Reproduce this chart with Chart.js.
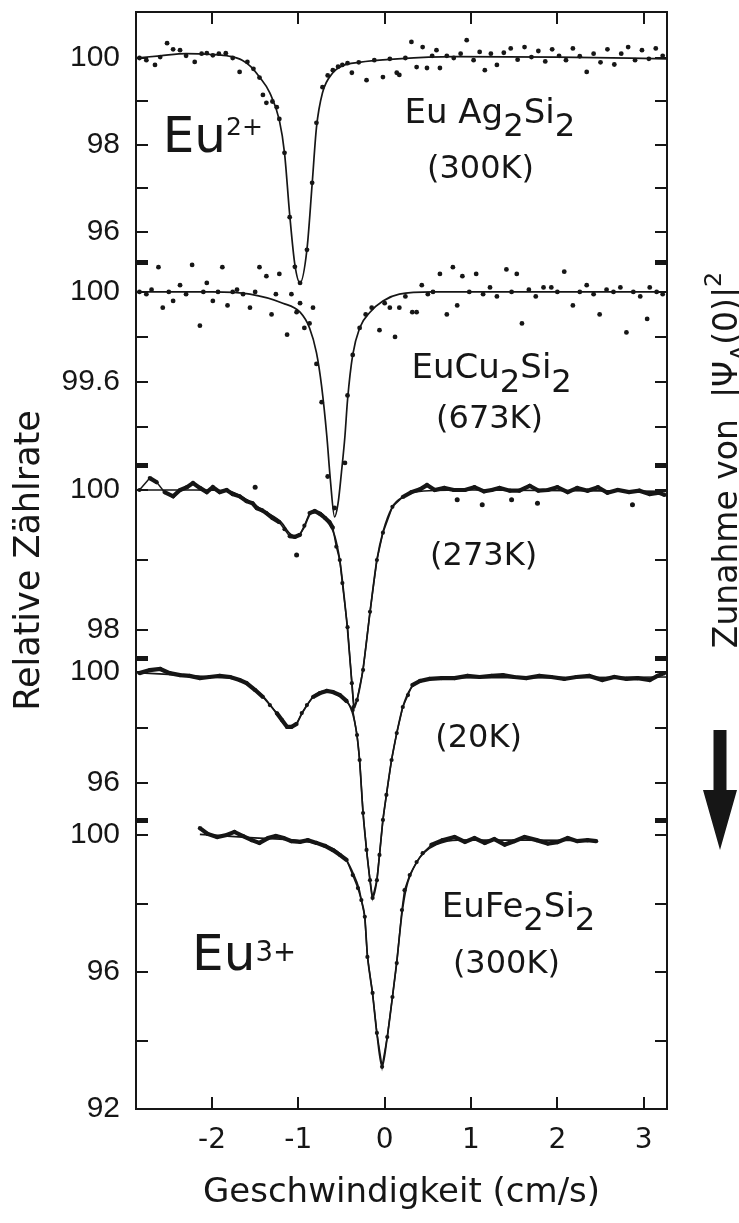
<!DOCTYPE html>
<html>
<head>
<meta charset="utf-8">
<script src="https://cdn.jsdelivr.net/npm/chart.js@4.4.1/dist/chart.umd.min.js"></script>
<style>
  html, body { margin: 0; padding: 0; background: #fff; }
  #wrap { position: relative; width: 739px; height: 1223px; }
</style>
</head>
<body>
<div id="wrap"><canvas id="chart"></canvas></div>
<script>
const ink = "#161616";

// x: Geschwindigkeit in cm/s, y: relative Zählrate in %
// EuAg2Si2 (300 K)
const agDots = [
	[-2.84, 100.0], [-2.76, 99.95], [-2.66, 99.84], [-2.60, 100.02], [-2.52, 100.34], [-2.45, 100.2],
	[-2.37, 100.18], [-2.30, 100.05], [-2.20, 99.91], [-2.12, 100.1], [-2.06, 100.11], [-1.99, 100.06],
	[-1.92, 100.1], [-1.84, 100.11], [-1.76, 100.0], [-1.68, 99.68], [-1.59, 99.91], [-1.52, 99.75],
	[-1.45, 99.55], [-1.41, 99.15], [-1.37, 98.97], [-1.30, 99.0], [-1.25, 98.87], [-1.22, 98.6],
	[-1.16, 97.82], [-1.10, 96.34], [-1.04, 95.2], [-0.98, 94.83], [-0.90, 95.59], [-0.84, 97.13],
	[-0.79, 98.51], [-0.72, 99.33], [-0.66, 99.6], [-0.60, 99.72], [-0.54, 99.8], [-0.49, 99.84],
	[-0.43, 99.88], [-0.38, 99.66], [-0.30, 99.9], [-0.21, 99.49], [-0.12, 99.95], [-0.02, 99.56],
	[0.06, 99.98], [0.14, 99.66], [0.17, 99.61], [0.24, 100.0], [0.31, 100.37], [0.37, 99.79],
	[0.44, 100.25], [0.49, 99.77], [0.55, 100.05], [0.60, 100.18], [0.64, 99.77], [0.72, 100.05],
	[0.80, 100.0], [0.88, 100.1], [0.95, 100.41], [1.03, 99.95], [1.10, 100.14], [1.16, 99.72],
	[1.23, 100.1], [1.30, 99.84], [1.38, 100.12], [1.46, 100.22], [1.54, 99.96], [1.62, 100.25],
	[1.70, 100.02], [1.78, 100.16], [1.86, 99.92], [1.94, 100.2], [2.02, 100.05], [2.10, 99.95],
	[2.18, 100.22], [2.26, 100.04], [2.34, 99.68], [2.42, 100.1], [2.50, 99.9], [2.58, 100.2],
	[2.66, 99.85], [2.74, 100.1], [2.82, 100.25], [2.90, 99.95], [2.98, 100.18], [3.06, 99.98],
	[3.14, 100.22], [3.22, 100.05]
];
const agFit = [
	[-2.88, 100.0], [-2.6, 100.05], [-2.3, 100.1], [-2.0, 100.08], [-1.8, 100.04], [-1.65, 99.95],
	[-1.55, 99.8], [-1.45, 99.56], [-1.33, 99.2], [-1.22, 98.57], [-1.16, 97.82], [-1.10, 96.4],
	[-1.04, 95.25], [-0.98, 94.83], [-0.90, 95.6], [-0.84, 97.1], [-0.79, 98.4], [-0.72, 99.2],
	[-0.60, 99.66], [-0.49, 99.82], [-0.30, 99.9], [0.15, 99.98], [0.8, 100.03], [2.0, 100.02],
	[3.27, 99.98]
];

// EuCu2Si2 (673 K)
const cuDots = [
	[-2.84, 100.0], [-2.76, 99.99], [-2.70, 100.01], [-2.62, 100.11], [-2.57, 99.93], [-2.50, 100.0],
	[-2.45, 99.96], [-2.37, 100.03], [-2.30, 99.99], [-2.23, 100.12], [-2.14, 99.85], [-2.10, 100.0],
	[-2.06, 100.04], [-1.99, 99.96], [-1.93, 100.0], [-1.88, 100.11], [-1.82, 99.94], [-1.76, 100.0],
	[-1.71, 100.01], [-1.64, 99.99], [-1.56, 99.93], [-1.50, 100.0], [-1.45, 100.11], [-1.37, 100.07],
	[-1.31, 99.9], [-1.26, 99.99], [-1.22, 100.08], [-1.13, 99.81], [-1.08, 99.99], [-1.02, 99.91],
	[-0.98, 99.95], [-0.93, 99.84], [-0.87, 99.86], [-0.83, 99.93], [-0.79, 99.68], [-0.73, 99.51],
	[-0.66, 99.18], [-0.58, 99.04], [-0.46, 99.24], [-0.43, 99.54], [-0.37, 99.72], [-0.29, 99.84],
	[-0.22, 99.9], [-0.15, 99.93], [-0.06, 99.83], [0.0, 99.95], [0.06, 99.93], [0.12, 99.8],
	[0.17, 99.93], [0.24, 99.98], [0.32, 99.91], [0.37, 99.91], [0.43, 100.03], [0.50, 99.99],
	[0.56, 100.0], [0.64, 100.08], [0.72, 99.9], [0.79, 100.11], [0.84, 99.94], [0.90, 100.07],
	[0.98, 100.0], [1.06, 100.08], [1.14, 99.99], [1.22, 100.02], [1.30, 99.98], [1.41, 100.1],
	[1.47, 100.0], [1.53, 100.08], [1.59, 99.86], [1.67, 100.01], [1.75, 99.98], [1.84, 100.02],
	[1.93, 100.02], [2.00, 100.0], [2.08, 100.09], [2.18, 99.94], [2.26, 100.0], [2.34, 100.03],
	[2.42, 99.99], [2.49, 99.9], [2.57, 100.01], [2.65, 100.0], [2.73, 100.02], [2.80, 99.82],
	[2.88, 100.0], [2.96, 99.98], [3.04, 99.88], [3.07, 100.02], [3.15, 100.0], [3.22, 99.99]
];
const cuFit = [
	[-2.88, 100.0], [-2.0, 100.0], [-1.56, 99.99], [-1.18, 99.95], [-0.98, 99.91], [-0.87, 99.84],
	[-0.79, 99.73], [-0.73, 99.58], [-0.67, 99.36], [-0.63, 99.17], [-0.58, 99.0], [-0.54, 99.06],
	[-0.50, 99.2], [-0.46, 99.36], [-0.43, 99.52], [-0.37, 99.72], [-0.29, 99.84], [-0.17, 99.91],
	[-0.02, 99.96], [0.17, 99.99], [0.56, 100.0], [3.27, 100.0]
];

// EuCu2Si2 (273 K): connected run plus stray points off the run
const k273Dots = [
	[-2.84, 100.0], [-2.72, 100.17], [-2.64, 100.11], [-2.55, 99.97], [-2.45, 99.91], [-2.37, 100.0],
	[-2.29, 100.04], [-2.22, 100.1], [-2.14, 100.03], [-2.06, 99.97], [-1.99, 100.04], [-1.91, 99.97],
	[-1.83, 100.0], [-1.76, 99.94], [-1.68, 99.91], [-1.60, 99.84], [-1.53, 99.81], [-1.48, 99.74],
	[-1.42, 99.71], [-1.37, 99.67], [-1.30, 99.6], [-1.22, 99.54], [-1.16, 99.44], [-1.10, 99.34],
	[-1.04, 99.33], [-0.98, 99.36], [-0.93, 99.49], [-0.87, 99.67], [-0.81, 99.7], [-0.75, 99.66],
	[-0.69, 99.6], [-0.64, 99.54], [-0.60, 99.46], [-0.56, 99.19], [-0.52, 99.0], [-0.49, 98.67],
	[-0.43, 98.04], [-0.38, 97.24], [-0.36, 96.9], [-0.32, 97.0], [-0.25, 97.43], [-0.17, 98.26],
	[-0.09, 99.0], [-0.02, 99.39], [0.09, 99.76], [0.21, 99.9], [0.31, 99.97], [0.41, 100.01],
	[0.49, 100.07], [0.58, 100.0], [0.69, 100.03], [0.80, 100.0], [0.93, 100.0], [1.04, 100.04],
	[1.15, 99.98], [1.24, 100.0], [1.33, 100.03], [1.45, 99.99], [1.56, 99.99], [1.68, 100.06],
	[1.78, 99.99], [1.89, 100.0], [2.0, 100.04], [2.12, 99.97], [2.23, 100.03], [2.35, 99.99],
	[2.47, 100.04], [2.58, 99.96], [2.70, 100.0], [2.83, 99.97], [2.95, 99.99], [3.07, 99.94],
	[3.18, 99.96], [3.24, 99.93]
];
const k273Stray = [
	[-1.50, 100.04], [-1.02, 99.07], [0.84, 99.86], [1.13, 99.79], [1.47, 99.86], [1.77, 99.81], [2.87, 99.79]
];
const k273Fit = [
	[-2.88, 100.0], [-2.2, 100.0], [-1.8, 99.98], [-1.6, 99.86], [-1.4, 99.7], [-1.2, 99.54],
	[-1.1, 99.38], [-1.02, 99.33], [-0.94, 99.45], [-0.85, 99.67], [-0.76, 99.68], [-0.66, 99.56],
	[-0.58, 99.35], [-0.52, 99.0], [-0.48, 98.6], [-0.43, 98.0], [-0.38, 97.25], [-0.35, 96.9],
	[-0.31, 97.05], [-0.25, 97.45], [-0.17, 98.25], [-0.09, 99.0], [-0.02, 99.4], [0.09, 99.76],
	[0.21, 99.9], [0.4, 99.98], [1.0, 100.0], [3.27, 99.98]
];

// EuCu2Si2 (20 K)
const k20Dots = [
	[-2.84, 99.96], [-2.72, 100.07], [-2.60, 100.11], [-2.49, 99.96], [-2.37, 99.89], [-2.26, 99.86],
	[-2.14, 99.78], [-2.03, 99.82], [-1.91, 99.86], [-1.79, 99.82], [-1.68, 99.71], [-1.60, 99.6],
	[-1.50, 99.35], [-1.41, 99.1], [-1.33, 98.81], [-1.25, 98.52], [-1.19, 98.27], [-1.13, 98.02],
	[-1.08, 98.02], [-1.02, 98.13], [-0.96, 98.52], [-0.90, 98.81], [-0.83, 99.1], [-0.75, 99.24],
	[-0.67, 99.32], [-0.60, 99.28], [-0.52, 99.17], [-0.44, 98.95], [-0.37, 98.63], [-0.32, 97.73],
	[-0.29, 96.83], [-0.25, 94.92], [-0.21, 93.59], [-0.17, 92.5], [-0.14, 91.86], [-0.09, 92.5],
	[-0.06, 93.41], [-0.02, 94.67], [0.02, 95.57], [0.08, 96.83], [0.14, 97.8], [0.21, 98.74],
	[0.27, 99.17], [0.32, 99.53], [0.41, 99.68], [0.52, 99.75], [0.66, 99.78], [0.81, 99.78],
	[0.96, 99.86], [1.10, 99.82], [1.24, 99.86], [1.37, 99.89], [1.50, 99.82], [1.64, 99.78],
	[1.79, 99.86], [1.93, 99.82], [2.08, 99.75], [2.22, 99.82], [2.37, 99.86], [2.52, 99.71],
	[2.66, 99.82], [2.80, 99.75], [2.93, 99.78], [3.07, 99.71], [3.16, 99.86], [3.24, 99.96]
];
const k20Fit = [
	[-2.88, 99.98], [-2.4, 99.9], [-2.0, 99.82], [-1.7, 99.72], [-1.55, 99.5], [-1.4, 99.1],
	[-1.25, 98.5], [-1.13, 98.05], [-1.05, 98.05], [-0.95, 98.55], [-0.83, 99.1], [-0.70, 99.3],
	[-0.58, 99.27], [-0.47, 99.05], [-0.38, 98.6], [-0.32, 97.7], [-0.29, 96.8], [-0.25, 94.9],
	[-0.21, 93.6], [-0.17, 92.5], [-0.14, 91.86], [-0.09, 92.5], [-0.06, 93.4], [-0.02, 94.67],
	[0.02, 95.57], [0.08, 96.83], [0.14, 97.8], [0.21, 98.74], [0.30, 99.4], [0.45, 99.72],
	[0.8, 99.8], [2.0, 99.8], [3.27, 99.82]
];

// EuFe2Si2 (300 K)
const feDots = [
	[-2.14, 100.2], [-2.05, 100.03], [-1.94, 99.94], [-1.83, 100.0], [-1.74, 100.09], [-1.64, 99.97],
	[-1.54, 99.85], [-1.45, 99.77], [-1.35, 99.91], [-1.26, 99.97], [-1.17, 99.91], [-1.08, 99.82],
	[-0.98, 99.8], [-0.89, 99.85], [-0.79, 99.77], [-0.69, 99.68], [-0.60, 99.56], [-0.52, 99.42],
	[-0.44, 99.27], [-0.37, 98.83], [-0.31, 98.45], [-0.27, 98.1], [-0.23, 97.61], [-0.20, 96.44],
	[-0.14, 95.39], [-0.09, 94.22], [-0.03, 93.23], [0.03, 94.1], [0.09, 95.27], [0.14, 96.26],
	[0.20, 97.81], [0.23, 98.39], [0.29, 98.83], [0.37, 99.21], [0.44, 99.47], [0.54, 99.71],
	[0.67, 99.85], [0.81, 99.94], [0.93, 99.8], [1.04, 99.91], [1.16, 99.77], [1.27, 99.88],
	[1.39, 99.72], [1.50, 99.82], [1.62, 99.94], [1.76, 99.85], [1.89, 99.75], [2.0, 99.79],
	[2.12, 99.91], [2.23, 99.82], [2.35, 99.85], [2.45, 99.82]
];
const feFit = [
	[-2.14, 100.02], [-1.6, 99.93], [-1.0, 99.84], [-0.75, 99.74], [-0.55, 99.52], [-0.44, 99.25],
	[-0.36, 98.85], [-0.30, 98.45], [-0.27, 98.1], [-0.23, 97.6], [-0.20, 96.5], [-0.14, 95.35],
	[-0.09, 94.2], [-0.03, 93.23], [0.03, 94.1], [0.09, 95.27], [0.14, 96.3], [0.20, 97.7],
	[0.25, 98.45], [0.30, 98.85], [0.37, 99.2], [0.45, 99.47], [0.6, 99.72], [0.85, 99.85],
	[1.6, 99.85], [2.45, 99.84]
];

const xTicks = [-2, -1, 0, 1, 2, 3];
const yTicks = [
	[96, 97, 98, 99, 100],
	[99.4, 99.6, 99.8, 100],
	[98, 99, 100],
	[96, 98, 100],
	[92, 94, 96, 98, 100]
];
const yTickLabels = [
	["96", "", "98", "", "100"],
	["", "99.6", "", "100"],
	["98", "", "100"],
	["96", "", "100"],
	["92", "", "96", "", "100"]
];

// one stacked y axis per spectrum, top to bottom
const panels = [
	{ min: 95.31, max: 101.057, h: 250 },
	{ min: 99.231, max: 100.133, h: 203 },
	{ min: 97.6, max: 100.357, h: 193 },
	{ min: 94.667, max: 100.505, h: 162 },
	{ min: 92, max: 100.438, h: 289 }
];

Chart.defaults.font.family = "DejaVu Sans";
Chart.defaults.color = ink;

const pts = (arr) => arr.map(([x, y]) => ({ x, y }));

function dots (arr, axis, r) {
	return { data: pts(arr), yAxisID: axis, showLine: false, pointRadius: r, pointBackgroundColor: ink, pointBorderWidth: 0, clip: false };
}

function trace (arr, axis) {
	// dense measurement runs look like a thick ragged line, steep flanks stay thin
	return {
		data: pts(arr), yAxisID: axis, showLine: true, borderColor: ink, borderWidth: 4.2,
		pointRadius: 2.1, pointBackgroundColor: ink, pointBorderWidth: 0, clip: false,
		segment: { borderWidth: (c) => Math.abs(c.p1.y - c.p0.y) > 7 ? 1.5 : 4.2 }
	};
}

function fit (arr, axis) {
	return { data: pts(arr), yAxisID: axis, showLine: true, borderColor: ink, borderWidth: 1.7, pointRadius: 0, cubicInterpolationMode: "monotone", clip: false };
}

// axes keep no extra label overhang, so the stack fills the plot exactly
function noOverhang (s) {
	s.paddingTop = 0;
	s.paddingBottom = 0;
	s.paddingLeft = 0;
	s.paddingRight = 0;
}

const scales = {
	x: {
		type: "linear", position: "bottom", min: -2.88, max: 3.27, clip: false,
		border: { color: ink, width: 2 },
		grid: { drawOnChartArea: false, tickLength: -12, color: ink, lineWidth: 2 },
		ticks: { autoSkip: false, padding: 27, font: { size: 28 }, color: ink, callback: (v) => xTicks.includes(v) ? String(v) : "" },
		title: { display: true, text: "Geschwindigkeit (cm/s)", font: { size: 34 }, color: ink, padding: { top: 0, bottom: 9 } },
		afterBuildTicks: (s) => { s.ticks = xTicks.map((v) => ({ value: v })); },
		afterFit: (s) => { s.height = 114; noOverhang(s); }
	},
	xTop: {
		type: "linear", position: "top", min: -2.88, max: 3.27, clip: false,
		border: { color: ink, width: 2 },
		grid: { drawOnChartArea: false, tickLength: -12, color: ink, lineWidth: 2 },
		ticks: { display: false },
		afterBuildTicks: (s) => { s.ticks = xTicks.map((v) => ({ value: v })); },
		afterFit: (s) => { s.height = 12; noOverhang(s); }
	}
};

panels.forEach((p, i) => {
	const tickVals = i > 0 ? yTicks[i].concat([p.max]) : yTicks[i];
	const grid = {
		drawOnChartArea: false, tickLength: -12, color: ink,
		lineWidth: (c) => c.tick && c.tick.value === p.max ? 5 : 2
	};
	scales["yL" + i] = {
		type: "linear", position: "left", stack: "left", stackWeight: p.h, weight: 5 - i,
		min: p.min, max: p.max, clip: false,
		border: { color: ink, width: 2 }, grid,
		ticks: {
			autoSkip: false, padding: 28, color: ink, font: { family: "Liberation Sans", size: 30 },
			callback: (v) => {
				const k = yTicks[i].indexOf(v);
				return k >= 0 ? yTickLabels[i][k] : "";
			}
		},
		afterBuildTicks: (s) => { s.ticks = tickVals.map((v) => ({ value: v })); },
		afterFit: (s) => { s.width = 76; noOverhang(s); }
	};
	scales["yR" + i] = {
		type: "linear", position: "right", stack: "right", stackWeight: p.h, weight: i + 1,
		min: p.min, max: p.max, clip: false,
		border: { color: ink, width: 2 }, grid,
		ticks: { display: false },
		afterBuildTicks: (s) => { s.ticks = tickVals.map((v) => ({ value: v })); },
		afterFit: (s) => { s.width = 72; noOverhang(s); }
	};
});

function rich (ctx, parts, x, y, size, align) {
	// parts: [text, baseline shift (x size), size factor]
	const widths = parts.map(([t, , f]) => {
		ctx.font = `${size * f}px "DejaVu Sans"`;
		return ctx.measureText(t).width;
	});
	const total = widths.reduce((a, b) => a + b, 0);
	let cx = align === "center" ? x - total / 2 : x;
	parts.forEach(([t, dy, f], k) => {
		ctx.font = `${size * f}px "DejaVu Sans"`;
		ctx.fillText(t, cx, y + dy * size);
		cx += widths[k];
	});
}

const notes = {
	id: "notes",
	afterDraw (chart) {
		const { ctx, scales: s, chartArea: area } = chart;
		const X = (v) => s.x.getPixelForValue(v);
		const Y = (i, v) => s["yL" + i].getPixelForValue(v);
		ctx.save();
		ctx.fillStyle = ink;
		ctx.textAlign = "left";
		ctx.textBaseline = "alphabetic";
		rich(ctx, [["Eu", 0, 1], ["2+", -0.34, 0.5]], X(-2.57), Y(0, 97.84), 50, "left");
		rich(ctx, [["Eu Ag", 0, 1], ["2", 0.4, 0.95], ["Si", 0, 1], ["2", 0.4, 0.95]], X(0.23), Y(0, 98.51), 34, "left");
		rich(ctx, [["(300K)", 0, 1]], X(1.11), Y(0, 97.24), 32, "center");
		rich(ctx, [["EuCu", 0, 1], ["2", 0.4, 0.95], ["Si", 0, 1], ["2", 0.4, 0.95]], X(0.31), Y(1, 99.618), 34, "left");
		rich(ctx, [["(673K)", 0, 1]], X(1.215), Y(1, 99.396), 32, "center");
		rich(ctx, [["(273K)", 0, 1]], X(1.146), Y(2, 98.93), 32, "center");
		rich(ctx, [["(20K)", 0, 1]], X(1.088), Y(3, 97.3), 32, "center");
		rich(ctx, [["EuFe", 0, 1], ["2", 0.4, 0.95], ["Si", 0, 1], ["2", 0.4, 0.95]], X(0.66), Y(4, 97.61), 34, "left");
		rich(ctx, [["(300K)", 0, 1]], X(1.41), Y(4, 95.97), 32, "center");
		rich(ctx, [["Eu", 0, 1], ["3+", -0.18, 0.55]], X(-2.23), Y(4, 96.06), 50, "left");

		// right margin: rotated caption and arrow
		ctx.save();
		ctx.translate(area.right + 70, area.top + 448);
		ctx.rotate(-Math.PI / 2);
		rich(ctx, [["Zunahme von  |Ψ", 0, 1], ["A", 0.3, 0.72], ["(0)|", 0, 1], ["2", -0.5, 0.72]], 0, 0, 33, "center");
		ctx.restore();

		const ax = area.right + 53;
		const top = area.top + 718;
		ctx.beginPath();
		ctx.moveTo(ax - 6.5, top);
		ctx.lineTo(ax + 6.5, top);
		ctx.lineTo(ax + 6.5, top + 60);
		ctx.lineTo(ax + 17, top + 60);
		ctx.lineTo(ax, top + 120);
		ctx.lineTo(ax - 17, top + 60);
		ctx.lineTo(ax - 6.5, top + 60);
		ctx.closePath();
		ctx.fill();
		ctx.restore();
	}
};

new Chart(document.getElementById("chart"), {
	type: "scatter",
	data: {
		datasets: [
			fit(agFit, "yL0"), dots(agDots, "yL0", 2.4),
			fit(cuFit, "yL1"), dots(cuDots, "yL1", 2.4),
			fit(k273Fit, "yL2"), trace(k273Dots, "yL2"), dots(k273Stray, "yL2", 2.5),
			fit(k20Fit, "yL3"), trace(k20Dots, "yL3"),
			fit(feFit, "yL4"), trace(feDots, "yL4")
		]
	},
	options: {
		responsive: true,
		maintainAspectRatio: false,
		animation: false,
		layout: { padding: 0 },
		scales,
		plugins: {
			legend: { display: false },
			tooltip: { enabled: false },
			title: {
				display: true, position: "left", fullSize: false, text: "Relative Zählrate", color: ink,
				font: { family: "DejaVu Sans", size: 35, weight: "normal", lineHeight: "40px" },
				padding: { top: 10, bottom: 10 }
			}
		}
	},
	plugins: [notes]
});
</script>
</body>
</html>
